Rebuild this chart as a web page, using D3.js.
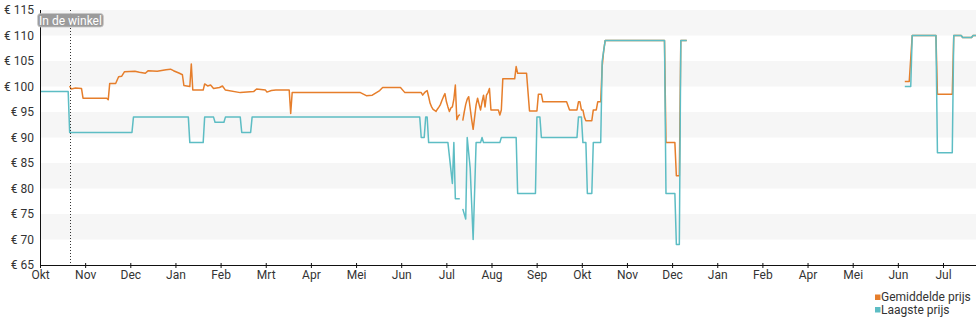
<!DOCTYPE html>
<html>
<head>
<meta charset="utf-8">
<script src="https://cdn.jsdelivr.net/npm/d3@7"></script>
<style>
  html, body { margin: 0; padding: 0; background: #fff; }
  svg { display: block; font-family: Roboto, "Noto Sans", "DejaVu Sans", sans-serif; }
</style>
</head>
<body>
<svg id="chart" width="980" height="325"></svg>
<script>
// Price history, measured in days since the first day on the chart (1 okt).
const monthLabels = ["Okt","Nov","Dec","Jan","Feb","Mrt","Apr","Mei","Jun","Jul","Aug",
                     "Sep","Okt","Nov","Dec","Jan","Feb","Apr","Mei","Jun","Jul"];
const priceTicks = [65, 70, 75, 80, 85, 90, 95, 100, 105, 110, 115];
const totalDays = 631;
const storeDay = 20;   // first day the product was in stock

// Laagste prijs (lowest price); null marks a gap in the data
const lowDays = [0,19,20,62,63,100,101,110,111,117,118,124,125,135,136,142,143,256,257,259,260,261,262,
  275,278,279,280,283,284,285,287,288,290,292,294,297,298,299,310,311,321,322,334,335,337,338,362,363,365,
  366,368,369,372,373,378,379,380,381,421,422,428,429,431,432,436,437,583,587,588,604,605,615,616,621,622,
  628,629,631];
const lowPrices = [99,99,91,91,94,94,89,89,94,94,93,93,94,94,91,91,94,94,90,90,94,94,89,
  89,81,89,78,78,null,76,74,90,84,70,89,89,90,89,89,90,90,79,79,94,94,90,90,94,94,
  89,89,79,79,89,89,105,107,109,109,79,79,69,69,109,109,null,100,100,110,110,87,87,110,110,109.6,
  109.6,110,110];

// Gemiddelde prijs (average price)
const avgDays = [20,21,24,28,29,45,46,47,51,53,55,57,64,67,71,73,79,85,88,90,94,96,97,101,102,103,110,
  111,113,115,117,121,123,125,135,144,146,152,153,156,159,168,169,170,216,220,224,229,231,243,246,256,
  257,258,259,260,261,262,263,264,265,266,267,268,269,270,271,272,273,274,275,276,277,278,279,280,281,
  282,283,284,285,286,287,288,289,290,291,292,293,294,295,296,297,298,299,300,301,302,303,304,309,310,
  311,312,320,321,322,328,330,335,336,338,339,355,357,362,363,364,365,366,367,368,372,373,375,376,378,
  379,380,381,421,422,428,429,431,432,436,437,583,586,588,604,605,615,616,621,622,628,629,631];
const avgPrices = [100.1,99.5,99.7,99.6,97.7,97.7,97.4,100.6,100.6,101.9,102,102.9,103,102.8,102.6,103.1,
  103,103.3,103.4,103.1,102.6,102.3,100.2,100,104.4,99.3,99.3,100.5,100.1,100.3,99.6,99.8,100.1,99.3,98.8,
  99,99.5,99.3,98.9,99.2,99.3,99.3,94.7,98.8,98.8,98.2,98.3,99.2,99.8,99.8,98.8,98.8,
  98.8,98.3,98.7,99,99.2,98,96.7,96,95.5,95.3,95.1,95.6,96,96.5,97.3,98,98.6,97,96,95.1,95.8,96,97.5,100.3,93.5,
  94.2,94.5,null,93.3,95,96.5,97.5,98,95.7,93.5,91.6,94,96.4,97.7,96.5,95.4,97,98.3,96,98.3,98.8,99.6,95.4,95.4,94.4,
  95.4,101.5,101.5,103.9,102.6,102.6,95.2,95.2,98.5,98.5,97,97,95.4,95.4,97,97,95.4,95.4,94,93.3,93.3,95.4,95.4,97,97,
  104,107,109,109,89,89,82.5,82.5,109,109,null,101,101,110,110,98.5,98.5,110,110,109.6,109.6,110,110];

const legendItems = [
  { label: "Gemiddelde prijs", color: "#e67e2b" },
  { label: "Laagste prijs",    color: "#5dbdc4" }
];

const svg = d3.select("#chart");
const plotLeft = 40, plotRight = 976, plotTop = 10, plotBottom = 265;

const x = d3.scaleLinear().domain([0, totalDays]).range([plotLeft, plotRight]);
const y = d3.scaleLinear().domain([65, 115]).range([plotBottom, plotTop]);

// alternating horizontal bands
const bandStarts = priceTicks.filter((p, i) => i < priceTicks.length - 1 && i % 2 === 1);
svg.append("g").selectAll("rect")
  .data(bandStarts)
  .join("rect")
  .attr("x", plotLeft)
  .attr("width", plotRight - plotLeft)
  .attr("y", d => y(d + 5))
  .attr("height", d => y(d) - y(d + 5))
  .attr("fill", "#f6f6f6");

// series
const toPoints = (days, prices) => days.map((d, i) => ({ d, p: prices[i] }));
const line = d3.line()
  .defined(v => v.p !== null)
  .x(v => x(v.d))
  .y(v => y(v.p));

svg.append("path")
  .datum(toPoints(avgDays, avgPrices))
  .attr("d", line)
  .attr("fill", "none")
  .attr("stroke", legendItems[0].color)
  .attr("stroke-width", 1.5)
  .attr("stroke-linejoin", "round");

svg.append("path")
  .datum(toPoints(lowDays, lowPrices))
  .attr("d", line)
  .attr("fill", "none")
  .attr("stroke", legendItems[1].color)
  .attr("stroke-width", 1.5)
  .attr("stroke-linejoin", "round");

// y axis
const yAxis = svg.append("g")
  .attr("transform", `translate(${plotLeft},0)`)
  .call(d3.axisLeft(y).tickValues(priceTicks).tickFormat(d => "€ " + d).tickSize(3).tickPadding(3));
yAxis.attr("font-family", null);
yAxis.select(".domain").attr("stroke", "#111").attr("d", `M0.5,${plotTop}V${plotBottom}`);
yAxis.selectAll(".tick line").attr("x2", 1).attr("stroke", "#111");
yAxis.selectAll(".tick text").attr("font-size", 12).attr("fill", "#333");

// x axis with evenly spaced month ticks
const daysPerMonth = 365.25 / 12;
const monthTicks = monthLabels.map((_, i) => i * daysPerMonth);
const xAxis = svg.append("g")
  .attr("transform", `translate(0,${plotBottom})`)
  .call(d3.axisBottom(x).tickValues(monthTicks).tickFormat((d, i) => monthLabels[i]).tickSize(3).tickPadding(2));
xAxis.attr("font-family", null);
xAxis.select(".domain").attr("stroke", "#111").attr("d", `M${plotLeft},0.5H${plotRight}`);
xAxis.selectAll(".tick line").attr("y1", -2).attr("stroke", "#111");
xAxis.selectAll(".tick text").attr("font-size", 12).attr("fill", "#333");

// "In de winkel" marker
const mx = Math.round(x(storeDay)) + 0.5;
svg.append("line")
  .attr("x1", mx).attr("x2", mx)
  .attr("y1", plotTop).attr("y2", plotBottom)
  .attr("stroke", "#333")
  .attr("stroke-width", 1)
  .attr("stroke-dasharray", "1,2");

const tag = svg.append("g");
const tagText = tag.append("text")
  .attr("x", mx)
  .attr("y", 24.5)
  .attr("text-anchor", "middle")
  .attr("font-size", 12)
  .attr("fill", "#fff")
  .text("In de winkel");
const bb = tagText.node().getBBox();
tag.insert("rect", "text")
  .attr("x", bb.x - 1.5)
  .attr("y", 13.5)
  .attr("width", bb.width + 3)
  .attr("height", 13.5)
  .attr("rx", 3)
  .attr("fill", "#9b9b9b")
  .attr("stroke", "#c8c8c8")
  .attr("stroke-width", 0.8);

// legend
const legend = svg.append("g").attr("transform", "translate(875,0)");
legendItems.forEach((item, i) => {
  const ly = 301 + i * 12.5;
  legend.append("rect")
    .attr("x", 0).attr("y", ly - 6.5)
    .attr("width", 5.5).attr("height", 5.5)
    .attr("fill", item.color);
  legend.append("text")
    .attr("x", 6).attr("y", ly)
    .attr("font-size", 12)
    .attr("fill", "#333")
    .text(item.label);
});
</script>
</body>
</html>
